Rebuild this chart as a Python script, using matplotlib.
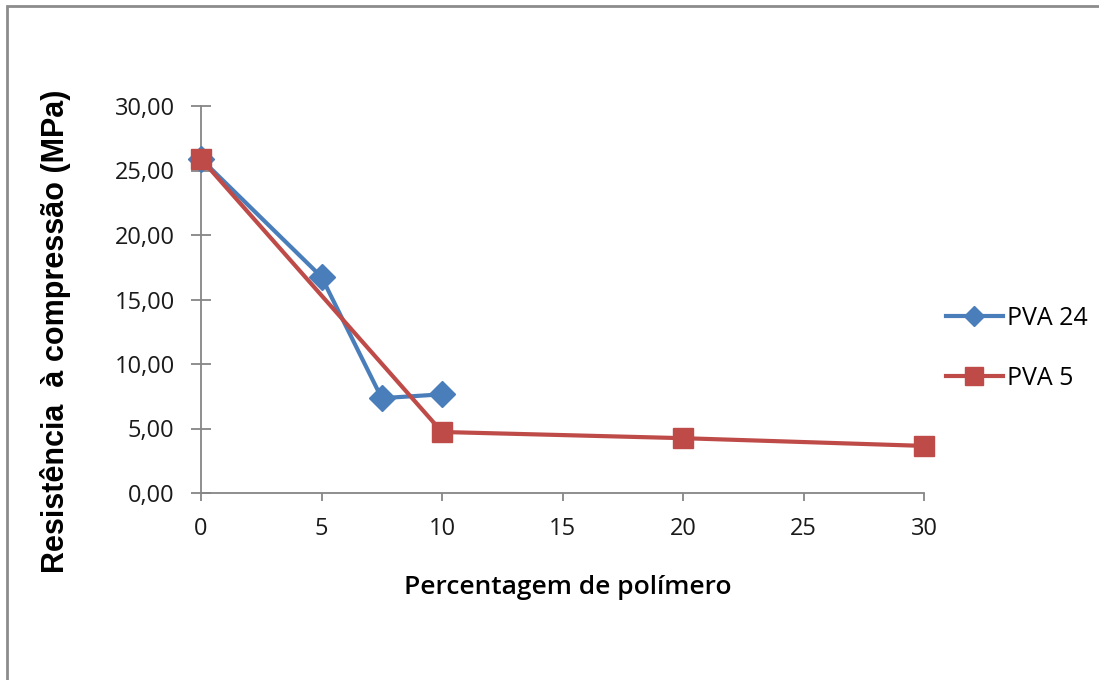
import matplotlib.pyplot as plt
from matplotlib.patches import Rectangle
from matplotlib.lines import Line2D

# compressive strength vs polymer percentage
x_pva24 = [0, 5, 7.5, 10]
y_pva24 = [25.9, 16.75, 7.35, 7.65]
x_pva5 = [0, 10, 20, 30]
y_pva5 = [25.9, 4.73, 4.25, 3.65]

yticks = [0, 5, 10, 15, 20, 25, 30]
xticks = [0, 5, 10, 15, 20, 25, 30]

blue = '#4A7EBB'
red = '#BE4B48'
grey = '#868686'

plt.rcParams['font.family'] = ['Open Sans', 'DejaVu Sans']

fig = plt.figure(figsize=(10.99, 6.8), dpi=100)
ax = fig.add_axes([201 / 1099, 1 - 493 / 680, (924 - 201) / 1099, (493 - 106) / 680])

ax.plot(x_pva24, y_pva24, color=blue, lw=3, marker='D', ms=13, label='PVA 24', zorder=3, clip_on=False)
ax.plot(x_pva5, y_pva5, color=red, lw=3, marker='s', ms=15, label='PVA 5', zorder=4, clip_on=False)

ax.set_xlim(0, 30)
ax.set_ylim(0, 30)
ax.set_xticks(xticks)
ax.set_yticks(yticks)
ax.set_yticklabels([f'{v:.2f}'.replace('.', ',') for v in yticks])
for s in ['top', 'right']:
    ax.spines[s].set_visible(False)
for s in ['left', 'bottom']:
    ax.spines[s].set_color(grey)
    ax.spines[s].set_linewidth(1.3)
ax.tick_params(colors=grey, width=1.3, labelsize=17, labelcolor='#1a1a1a')
ax.tick_params(axis='y', direction='inout', length=14, pad=12)
ax.tick_params(axis='x', direction='out', length=6, pad=11)

ax.set_ylabel('Resistência  à compressão (MPa)', fontsize=22, fontweight='bold',
              family='Liberation Sans', labelpad=0)
ax.yaxis.set_label_coords(-145 / 723, (493 - 331) / 387)
ax.set_xlabel('Percentagem de polímero', fontsize=19, fontweight='semibold')
ax.xaxis.set_label_coords((568 - 201) / 723, -(587 - 493) / 387)
ax.xaxis.label.set_va('center')
ax.yaxis.label.set_va('center')

handles = [Line2D([], [], color=blue, lw=3, marker='D', ms=10),
           Line2D([], [], color=red, lw=3, marker='s', ms=13)]
fig.legend(handles, ['PVA 24', 'PVA 5'], loc='upper left', bbox_to_anchor=(923 / 1099, 1 - 283 / 680),
           frameon=False, fontsize=18, handlelength=2.3, handletextpad=0.15, labelspacing=1.4)

# outer chart border
fig.add_artist(Rectangle((7 / 1099, -0.1), 1.2, 1 - 6 / 680 + 0.1, transform=fig.transFigure,
                         fill=False, edgecolor='#8c8c8c', lw=2))

fig.savefig('out.png', dpi=100)
